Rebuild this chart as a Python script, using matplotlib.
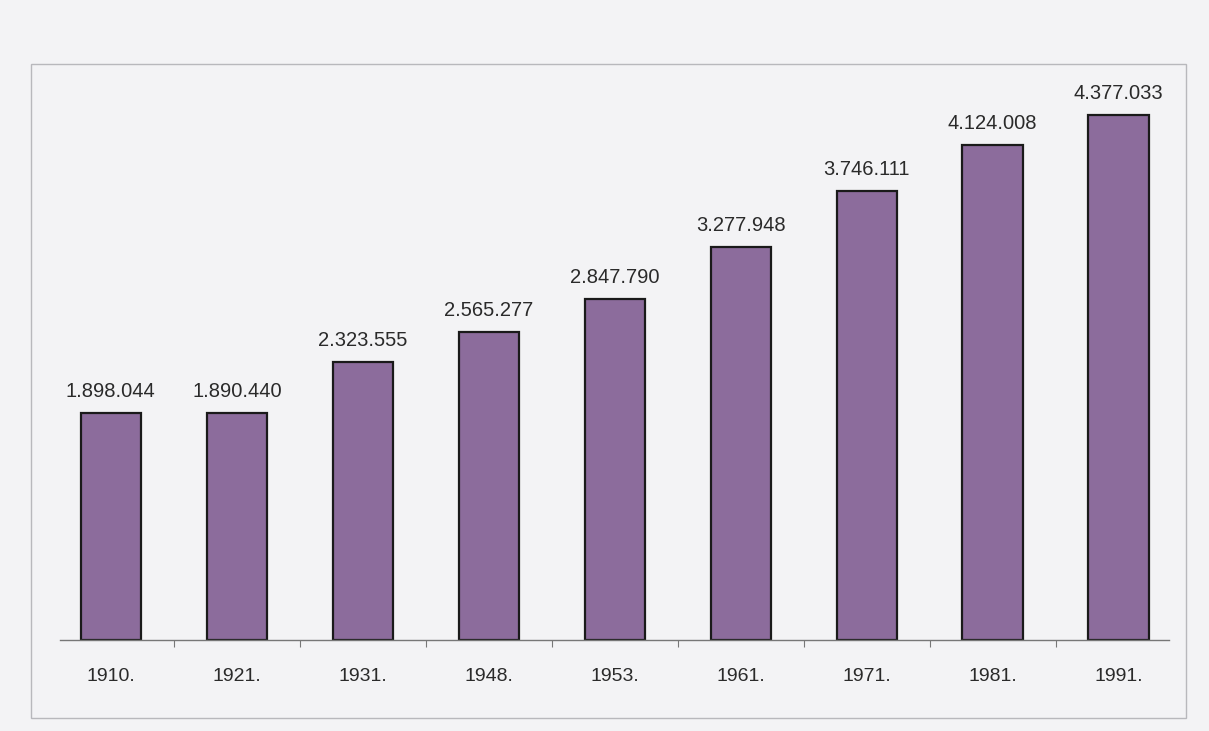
import matplotlib.pyplot as plt
from matplotlib.patches import Rectangle

years = ["1910.", "1921.", "1931.", "1948.", "1953.", "1961.", "1971.", "1981.", "1991."]
population = [1898044, 1890440, 2323555, 2565277, 2847790, 3277948, 3746111, 4124008, 4377033]


def fmt(v):
    return f"{v:,}".replace(",", ".")


fig = plt.figure(figsize=(12.09, 7.31), dpi=100)
fig.patch.set_facecolor("#f3f3f5")

# light frame around the chart
fig.patches.append(Rectangle((0.026, 0.018), 0.955, 0.895, transform=fig.transFigure,
                             fill=False, edgecolor="#b8b8bc", linewidth=1.0))

ax = fig.add_axes([0.05, 0.124, 0.917, 0.746])
ax.set_facecolor("#f3f3f5")

x = range(len(years))
ax.bar(x, population, width=0.48, color="#8c6c9c", edgecolor="#1a1a1a", linewidth=1.6)

for xi, v in zip(x, population):
    ax.text(xi, v + 100000, fmt(v), ha="center", va="bottom", fontsize=14.5,
            color="#2a2a2a", family="Liberation Sans")

ax.set_xlim(-0.4, len(years) - 0.6)
ax.set_ylim(0, 4544000)
ax.set_xticks([i + 0.5 for i in range(len(years) - 1)])
ax.set_xticklabels([])
ax.tick_params(axis="x", length=5, color="#777777", direction="out")
for xi, lab in zip(x, years):
    ax.text(xi, -230000, lab, ha="center", va="top", fontsize=14,
            color="#2a2a2a", family="Liberation Sans")

ax.set_yticks([])
for s in ["top", "right", "left"]:
    ax.spines[s].set_visible(False)
ax.spines["bottom"].set_color("#777777")
ax.spines["bottom"].set_linewidth(1.0)

plt.savefig("out.png", dpi=100, facecolor=fig.get_facecolor())
